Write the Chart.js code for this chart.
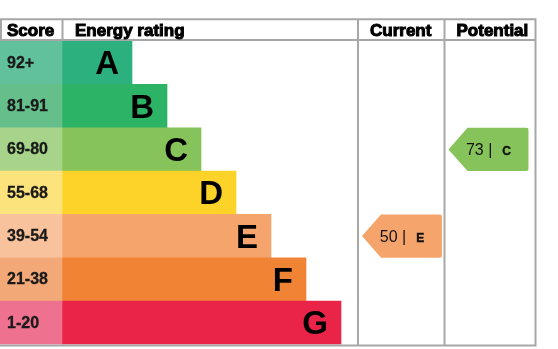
<!DOCTYPE html>
<html><head><meta charset="utf-8">
<script src="https://cdn.jsdelivr.net/npm/chart.js@4/dist/chart.umd.min.js"></script>
<style>html,body{margin:0;padding:0;background:#fff}#wrap{width:558px;height:349px}</style>
</head><body><div id="wrap"><canvas id="c" width="558" height="349"></canvas></div>
<script>
// ---- data ----
const bands = ['A','B','C','D','E','F','G'];
const scoreRanges = ['92+','81-91','69-80','55-68','39-54','21-38','1-20'];
const bandBarLengths = [70,105,139,174,209,244,279];
const headers = ['Score','Energy rating','Current','Potential'];
const currentRating = [50, 'E'];
const potentialRating = [73, 'C'];

// ---- styles / layout ----
const bandColors  = ['#2bb07e','#2cb366','#86c35a','#fdd32a','#f5a46b','#f08434','#ea2448'];
const scoreColors = ['#60c19c','#64bf8b','#a7d38a','#fde37c','#f8c29c','#f3a878','#ef7190'];
const SCORE_COL = 62;
const COLS = [0, 62, 358, 444.5, 535.5]; // column boundaries (x scale units)
const GRID = '#a7a7a7';
const FONT = '"Liberation Sans", Arial, sans-serif';

const overlay = {
  id: 'epcOverlay',
  afterDraw(chart) {
    const {ctx, scales: {x, y}} = chart;
    const px = v => x.getPixelForValue(v);
    const bandH = y.getPixelForValue(1) - y.getPixelForValue(0);
    const top = y.getPixelForValue(0) - bandH / 2;
    const bottom = y.getPixelForValue(bands.length - 1) + bandH / 2;
    const headTop = 19.3;
    ctx.save();

    // score labels
    ctx.fillStyle = '#1a1a1a';
    ctx.strokeStyle = '#1a1a1a';
    ctx.lineWidth = 0.3;
    ctx.font = 'bold 16px ' + FONT;
    ctx.textBaseline = 'alphabetic';
    ctx.textAlign = 'left';
    scoreRanges.forEach((s, i) => { ctx.fillText(s, px(7), y.getPixelForValue(i) + 5); ctx.strokeText(s, px(7), y.getPixelForValue(i) + 5); });

    // band letters
    ctx.fillStyle = '#000';
    ctx.font = 'bold 33px ' + FONT;
    ctx.textAlign = 'right';
    bands.forEach((b, i) => ctx.fillText(b, px(SCORE_COL + bandBarLengths[i]) - 13, y.getPixelForValue(i) + 11.5));

    // grid lines
    ctx.strokeStyle = GRID;
    ctx.lineWidth = 2;
    ctx.beginPath();
    ctx.moveTo(px(0), headTop); ctx.lineTo(px(COLS[4]) + 1, headTop);
    ctx.moveTo(px(0), top - 1); ctx.lineTo(px(COLS[4]) + 1, top - 1);
    ctx.moveTo(px(0), bottom + 1); ctx.lineTo(px(COLS[4]) + 1, bottom + 1);
    ctx.moveTo(px(1), headTop); ctx.lineTo(px(1), top);
    ctx.moveTo(px(COLS[1]) + 0.5, headTop); ctx.lineTo(px(COLS[1]) + 0.5, top);
    [COLS[2], COLS[3], COLS[4]].forEach(c => { ctx.moveTo(px(c), headTop); ctx.lineTo(px(c), bottom + 2); });
    ctx.stroke();

    // headers
    ctx.fillStyle = '#000';
    ctx.strokeStyle = '#000';
    ctx.lineWidth = 1;
    ctx.font = 'bold 17px ' + FONT;
    ctx.textAlign = 'left';
    const hx = [px(7), px(COLS[1]) + 13, px(COLS[2]) + 12, px(COLS[3]) + 12];
    headers.forEach((h, i) => { ctx.fillText(h, hx[i], 36); ctx.strokeText(h, hx[i], 36); });

    // rating arrows
    function arrow(colL, rating) {
      const idx = bands.indexOf(rating[1]);
      const cy = y.getPixelForValue(idx);
      const t = cy - bandH / 2, b = cy + bandH / 2;
      const tip = px(colL) + 4, right = tip + 80, base = tip + 19, r = 2;
      ctx.fillStyle = bandColors[idx];
      ctx.beginPath();
      ctx.moveTo(tip, cy);
      ctx.lineTo(base, t);
      ctx.lineTo(right - r, t);
      ctx.quadraticCurveTo(right, t, right, t + r);
      ctx.lineTo(right, b - r);
      ctx.quadraticCurveTo(right, b, right - r, b);
      ctx.lineTo(base, b);
      ctx.closePath();
      ctx.fill();
      ctx.fillStyle = '#111';
      ctx.strokeStyle = '#111';
      ctx.textAlign = 'left';
      ctx.font = '16px ' + FONT;
      const s1 = rating[0] + ' |';
      const w1 = ctx.measureText(s1).width;
      ctx.font = 'bold 12px ' + FONT;
      const w2 = ctx.measureText(rating[1]).width;
      const gap = 10;
      const total = w1 + gap + w2;
      const sx = (tip + right) / 2 - total / 2;
      ctx.font = '16px ' + FONT;
      ctx.fillText(s1, sx, cy + 6);
      ctx.font = 'bold 12px ' + FONT;
      ctx.lineWidth = 0.4;
      ctx.fillText(rating[1], sx + w1 + gap, cy + 6);
      ctx.strokeText(rating[1], sx + w1 + gap, cy + 6);
    }
    arrow(COLS[2], currentRating);
    arrow(COLS[3], potentialRating);
    ctx.restore();
  }
};

new Chart(document.getElementById('c'), {
  type: 'bar',
  data: {
    labels: bands,
    datasets: [
      { data: bands.map(() => SCORE_COL), backgroundColor: scoreColors, borderWidth: 0, barPercentage: 1, categoryPercentage: 1 },
      { data: bandBarLengths, backgroundColor: bandColors, borderWidth: 0, barPercentage: 1, categoryPercentage: 1 }
    ]
  },
  options: {
    indexAxis: 'y',
    responsive: false,
    animation: false,
    devicePixelRatio: 1,
    layout: { padding: { left: 0, right: 22, top: 41, bottom: 4.5 } },
    scales: {
      x: { type: 'linear', display: false, min: 0, max: 536, stacked: true },
      y: { display: false, stacked: true }
    },
    plugins: { legend: { display: false }, tooltip: { enabled: false } }
  },
  plugins: [overlay]
});
</script>
</body></html>
